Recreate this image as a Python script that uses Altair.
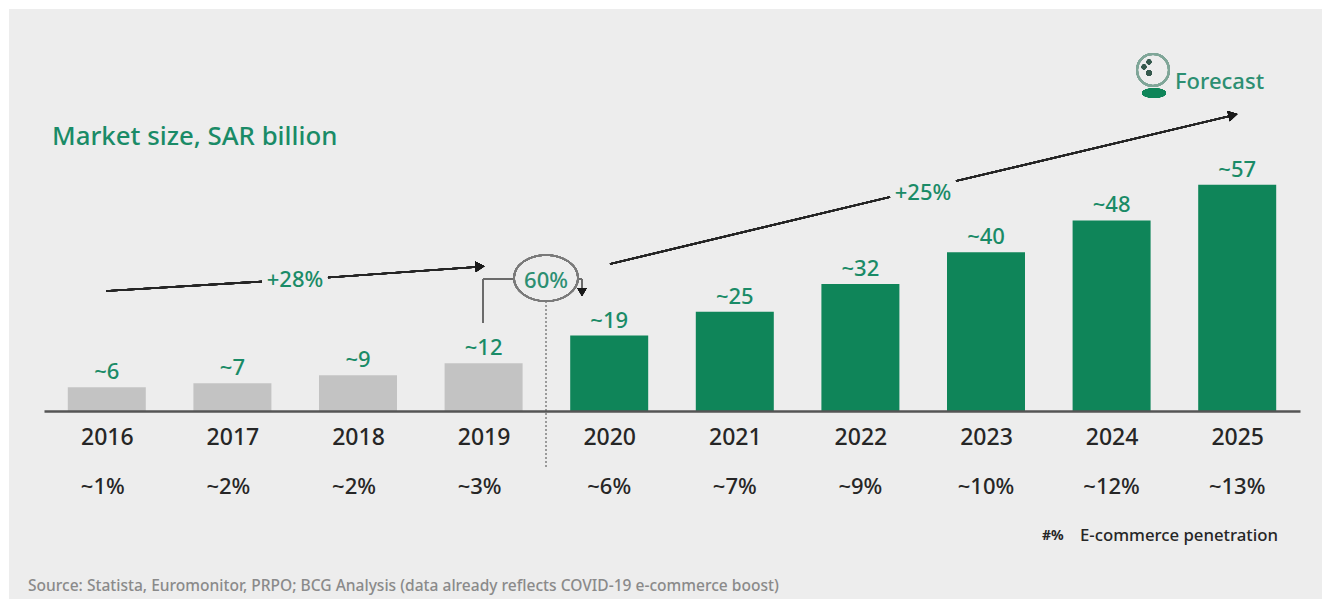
import altair as alt
import pandas as pd

years = [2016, 2017, 2018, 2019, 2020, 2021, 2022, 2023, 2024, 2025]
market_size = [6, 7, 9, 12, 19, 25, 32, 40, 48, 57]
penetration = [1, 2, 2, 3, 6, 7, 9, 10, 12, 13]
forecast_from = 2020

GREEN = "#0f8559"
TEXT_GREEN = "#1a8b67"
GREY_BAR = "#c3c3c3"
PANEL = "#ededed"
DARK = "#262626"
FONT = "Noto Sans"

LEFT, TOP = 44, 0
WIDTH, HEIGHT = 1256, 411

df = pd.DataFrame({
    "year": years,
    "size": market_size,
    "pen": penetration,
})
df["size_label"] = ["~%d" % v for v in market_size]
df["pen_label"] = ["~%d%%" % v for v in penetration]
df["color"] = [GREEN if y >= forecast_from else GREY_BAR for y in years]

x_scale = alt.Scale(domain=[2015.5, 2025.5], nice=False, zero=False, padding=0)
y_scale = alt.Scale(domain=[0, 103.5], nice=False, zero=True)

base = alt.Chart(df)


def px(x):
    """Horizontal canvas position, expressed relative to the plot group."""
    return alt.value(x - LEFT)


def segment(x1, y1, x2, y2, color=DARK, width=1.7, dash=None):
    opts = {"color": color, "strokeWidth": width}
    if dash:
        opts["strokeDash"] = dash
    return base.mark_rule(**opts).encode(
        x=px(x1), y=alt.value(y1), x2=px(x2), y2=alt.value(y2)
    )


def head(x, y, angle, size=110, color="#1a1a1a"):
    return base.mark_point(
        shape="triangle-right", filled=True, size=size, color=color,
        opacity=1, angle=angle,
    ).encode(x=px(x), y=alt.value(y))


def label(x, y, text, size, color, align="left", weight=500):
    return alt.Chart(pd.DataFrame({"t": [text]})).mark_text(
        fontSize=size, color=color, align=align, baseline="middle",
        font=FONT, fontWeight=weight,
    ).encode(x=px(x), y=alt.value(y), text="t:N")


panel = base.mark_rect(color=PANEL).encode(
    x=px(9), x2=px(1322), y=alt.value(9), y2=alt.value(599)
)

bars = base.mark_bar(size=78).encode(
    x=alt.X(
        "year:Q", scale=x_scale,
        axis=alt.Axis(
            values=years, format="d", title=None, grid=False, ticks=False,
            domainColor="#555555", domainWidth=2.5,
            labelFont=FONT, labelFontSize=23, labelFontWeight=500,
            labelColor=DARK, labelPadding=15, labelFlush=False,
            labelOverlap=False, zindex=1,
        ),
    ),
    y=alt.Y("size:Q", scale=y_scale, axis=None),
    color=alt.Color("color:N", scale=None),
)

value_labels = base.mark_text(
    fontSize=22, fontWeight=500, color=TEXT_GREEN, baseline="bottom", dy=-3,
    font=FONT,
).encode(
    x=alt.X("year:Q", scale=x_scale),
    y=alt.Y("size:Q", scale=y_scale),
    text="size_label:N",
)


def pen_layer(test, dx):
    return base.transform_filter(test).mark_text(
        fontSize=22, fontWeight=500, color=DARK, baseline="middle", font=FONT,
        dx=dx,
    ).encode(
        x=alt.X("year:Q", scale=x_scale),
        y=alt.value(487),
        text="pen_label:N",
    )


# The historical penetration figures sit slightly left of their bars
pen_labels = [
    pen_layer(f"datum.year < {forecast_from}", -4),
    pen_layer(f"datum.year >= {forecast_from}", 0),
]

# Growth arrows, each broken around its CAGR label
arrows = [
    segment(106, 291, 262, 281.5),
    segment(328, 277.5, 476, 267),
    head(480, 266.5, 356),
    segment(610, 264, 890, 197),
    segment(956, 181, 1230, 116),
    head(1233, 115, 346.5),
]

# Bracket that links 2019 to 2020 through the 60% bubble
bracket = [
    segment(483, 323, 483, 279, color="#6b6b6b", width=2),
    segment(483, 279, 515, 279, color="#6b6b6b", width=2),
    segment(578, 279, 582, 279, color="#6b6b6b", width=2),
    segment(582, 279, 582, 290, color="#6b6b6b", width=2),
    head(582, 292, 90, size=90),
]

divider = segment(546, 301, 546, 468, color="#9a9a9a", width=1.5, dash=[2, 2])

bubble = base.mark_point(
    shape="M-1,0 A1,0.72 0 1,1 1,0 A1,0.72 0 1,1 -1,0 Z",
    size=4096, color="#7a7a7a", strokeWidth=1.6, filled=False, opacity=1,
).encode(x=px(546), y=alt.value(278))

# Crystal ball next to the forecast label
ball = [
    base.mark_point(
        shape="circle", size=1024, color="#7fa698", strokeWidth=2,
        filled=False, opacity=1,
    ).encode(x=px(1153), y=alt.value(70)),
    base.mark_point(
        shape="M-1,0 A1,0.4 0 1,1 1,0 A1,0.4 0 1,1 -1,0 Z",
        size=576, color=GREEN, filled=True, opacity=1,
    ).encode(x=px(1154), y=alt.value(93)),
]
ball_dots = [
    base.mark_point(
        shape="circle", size=size, color="#35594d", filled=True, opacity=1
    ).encode(x=px(x), y=alt.value(y))
    for x, y, size in [(1149, 62, 24), (1144, 67, 24), (1149, 73, 28)]
]

texts = [
    label(52, 137, "Market size, SAR billion", 25.8, TEXT_GREEN),
    label(1175, 82, "Forecast", 22, "#2c8f72"),
    label(295, 280, "+28%", 22, TEXT_GREEN, align="center"),
    label(923, 193, "+25%", 22, TEXT_GREEN, align="center"),
    label(546, 281, "60%", 22, "#2c8f72", align="center"),
    label(1042, 536, "#%", 14, DARK, weight="bold"),
    label(1080, 536, "E-commerce penetration", 16.75, DARK),
    label(28, 586,
          "Source: Statista, Euromonitor, PRPO; BCG Analysis "
          "(data already reflects COVID-19 e-commerce boost)",
          15.55, "#8a8a8a"),
]

chart = alt.layer(
    panel, bars, value_labels, *pen_labels,
    *arrows, *bracket, divider, bubble, *ball, *ball_dots, *texts,
).properties(
    width=WIDTH,
    height=HEIGHT,
    background="white",
    padding={"left": LEFT, "top": TOP, "right": 22, "bottom": 188},
    autosize=alt.AutoSizeParams(type="none"),
).configure_view(stroke=None)

chart.save("out.html", embed_options={"renderer": "svg", "actions": False})
